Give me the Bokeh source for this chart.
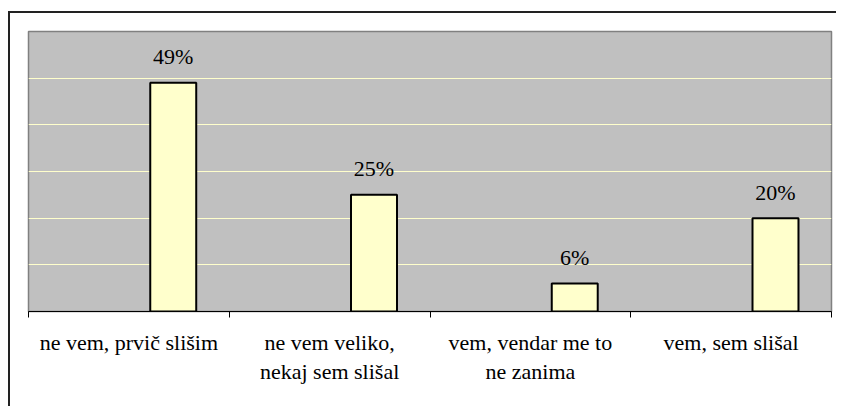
from bokeh.plotting import figure
from bokeh.models import (Range1d, LinearAxis, FixedTicker, ColumnDataSource)
from bokeh.transform import dodge
from bokeh.core.properties import value
from bokeh.embed import file_html
from bokeh.resources import INLINE

# ---- data ----
categories = ["ne vem, prvič slišim",
              "ne vem veliko,\nnekaj sem slišal",
              "vem, vendar me to\nne zanima",
              "vem, sem slišal"]
values = [49, 25, 6, 20]
value_labels = ["49%", "25%", "6%", "20%"]
grid_ticks = [10, 20, 30, 40, 50]
y_max = 60

FONT = "Liberation Serif"
n = len(categories)
positions = list(range(n))          # category slot index

src = ColumnDataSource(dict(pos=positions, val=values, lab=value_labels))

p = figure(x_range=Range1d(0, n),
           y_range=Range1d(0, y_max),
           frame_width=803, frame_height=280,
           x_axis_location=None, y_axis_location=None,
           output_backend="svg", toolbar_location=None,
           min_border_left=18, min_border_top=18,
           min_border_right=5, min_border_bottom=95,
           background_fill_color="#C0C0C0",
           border_fill_color="white")

p.outline_line_color = "#808080"
p.outline_line_width = 1.5
p.xgrid.grid_line_color = None
p.ygrid.ticker = FixedTicker(ticks=grid_ticks)
p.ygrid.grid_line_color = "#FFFFCC"
p.ygrid.grid_line_width = 1

bar_x = dodge("pos", 0.5 + 0.221)
p.vbar(x=bar_x, top="val", width=0.229,
       bottom=0, fill_color="#FFFFCC", line_color="black", line_width=2,
       source=src)

p.text(x=bar_x, y="val", text="lab",
       source=src, text_align="center", text_baseline="alphabetic",
       y_offset=-26, text_font=value(FONT), text_font_size="22px",
       text_color="black")

# tick axis with ticks at category boundaries
tick_axis = LinearAxis(ticker=FixedTicker(ticks=list(range(n + 1))),
                       major_label_overrides={i: "" for i in range(n + 1)},
                       major_label_text_font_size="1px",
                       major_label_standoff=0,
                       major_tick_in=0, major_tick_out=6,
                       major_tick_line_color="black",
                       minor_tick_line_color=None,
                       axis_line_color="black", axis_line_width=1)
p.add_layout(tick_axis, "below")

# label axis with category names at slot centres
centres = [i + 0.5 for i in positions]
label_axis = LinearAxis(ticker=FixedTicker(ticks=centres),
                        major_label_overrides={c: cat for c, cat in zip(centres, categories)},
                        axis_line_color=None,
                        major_tick_line_color=None,
                        minor_tick_line_color=None,
                        major_label_text_font=FONT,
                        major_label_text_font_size="22px",
                        major_label_text_color="black",
                        major_label_text_line_height=1.17,
                        major_label_standoff=6)
p.add_layout(label_axis, "below")

p.styles = {"border-left": "2px solid #222222",
            "border-top": "2px solid #222222",
            "margin-top": "11px",
            "margin-left": "8px"}

open("out.html", "w").write(file_html(p, INLINE))
